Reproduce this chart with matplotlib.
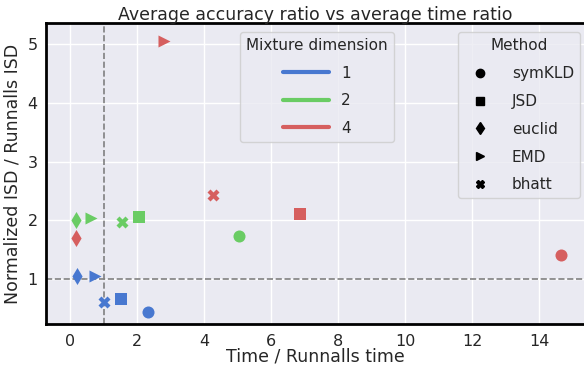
import matplotlib
matplotlib.use("Agg")
import matplotlib.pyplot as plt
import seaborn as sns
from matplotlib.lines import Line2D

sns.set_theme(style="darkgrid", palette="muted")

methods = ["symKLD", "JSD", "euclid", "EMD", "bhatt"]
markers = ["o", "s", "d", ">", "X"]
dims = ["1", "2", "4"]

# time ratio / accuracy ratio per dimension, ordered like methods
time_ratio = {
    "1": [2.33, 1.52, 0.20, 0.75, 1.00],
    "2": [5.04, 2.06, 0.18, 0.63, 1.55],
    "4": [14.66, 6.87, 0.18, 2.80, 4.27],
}
isd_ratio = {
    "1": [0.44, 0.66, 1.05, 1.05, 0.61],
    "2": [1.73, 2.06, 2.00, 2.04, 1.97],
    "4": [1.41, 2.11, 1.70, 5.05, 2.43],
}
colors = {"1": "#4878d0", "2": "#6acc64", "4": "#d65f5f"}

fig = plt.figure(figsize=(5.84, 3.66), dpi=100)
ax = fig.add_axes([0.079, 0.115, 0.921, 0.822])

for d in dims:
    for i, m in enumerate(methods):
        ax.scatter(time_ratio[d][i], isd_ratio[d][i], marker=markers[i],
                   color=colors[d], s=75, zorder=3, linewidths=0)

ax.axvline(1, color="gray", ls="--", lw=1.2, zorder=2)
ax.axhline(1, color="gray", ls="--", lw=1.2, zorder=2)

ax.set_xlim(-0.72, 15.34)
ax.set_ylim(0.234, 5.36)
ax.set_xticks([0, 2, 4, 6, 8, 10, 12, 14])
ax.tick_params(axis="x", labelsize=11.5, pad=1)
ax.tick_params(axis="y", labelsize=11.5, pad=0)
ax.set_xlabel("Time / Runnalls time", fontsize=12.5, labelpad=-1)
ax.set_ylabel("Normalized ISD / Runnalls ISD", fontsize=12.5, labelpad=4)
ax.set_title("Average accuracy ratio vs average time ratio", fontsize=12.5, pad=2)

for s in ["left", "top", "bottom"]:
    ax.spines[s].set_visible(True)
    ax.spines[s].set_color("black")
    ax.spines[s].set_linewidth(2)
ax.spines["right"].set_visible(False)

dim_handles = [Line2D([0], [0], color=colors[d], lw=3) for d in dims]
leg1 = ax.legend(dim_handles, dims, title="Mixture dimension", fontsize=11,
                 title_fontsize=11, loc="upper left", borderaxespad=0,
                 bbox_to_anchor=(0.36, 0.97), labelspacing=0.82,
                 handlelength=3.0, handletextpad=0.8)
leg1._legend_box.align = "center"
ax.add_artist(leg1)

m_handles = [Line2D([0], [0], marker=mk, color="black", ls="", markersize=6)
             for mk in markers]
ax.legend(m_handles, methods, title="Method", fontsize=11, title_fontsize=11,
          loc="upper right", bbox_to_anchor=(0.9926, 0.97), borderaxespad=0,
          labelspacing=0.84, handletextpad=1.1)

fig.savefig("out.png", dpi=100)
